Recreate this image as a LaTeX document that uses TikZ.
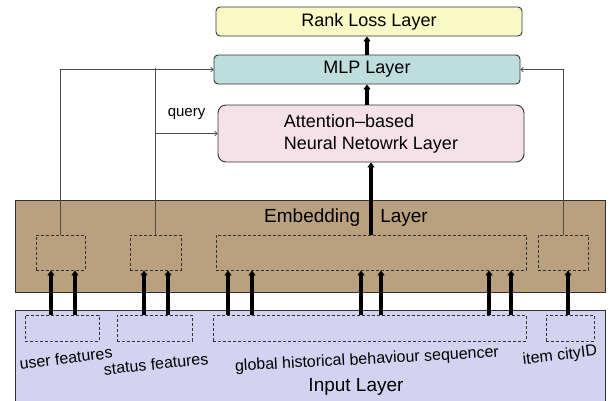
\documentclass[tikz,border=0pt]{standalone}
\usepackage{fontspec}
\setmainfont{Liberation Sans}
\usetikzlibrary{arrows.meta}
\definecolor{rankfill}{RGB}{249,249,198}
\definecolor{mlpfill}{RGB}{190,222,222}
\definecolor{attnfill}{RGB}{247,225,233}
\definecolor{embfill}{RGB}{185,160,126}
\definecolor{inputfill}{RGB}{211,211,241}
\definecolor{edge}{RGB}{50,50,50}
\begin{document}
\begin{tikzpicture}[
  x=1pt, y=-1pt,
  layer/.style={rectangle, draw=edge, line width=0.9pt, rounded corners=4pt, inner sep=0pt, font=\fontsize{18}{22}\selectfont},
  slot/.style={rectangle, draw=edge, dashed, dash pattern=on 3pt off 2pt, line width=0.9pt, inner sep=0pt, minimum height=#1},
  feed/.style={-{Triangle[width=7pt,length=5pt]}, line width=3.5pt},
  link/.style={-{To[length=3pt,width=5pt]}, draw=black!70, line width=0.8pt},
  tag/.style={font=\fontsize{16}{19}\selectfont, inner sep=0pt}
]
\useasboundingbox (0,0) rectangle (613,400);

% Embedding and input bands
\node[layer, rounded corners=0pt, fill=embfill, minimum width=590pt, minimum height=92pt] (emb) at (310,246) {};
\node[layer, rounded corners=0pt, fill=inputfill, minimum width=590pt, minimum height=100pt] (input) at (310,360) {};
\node[font=\fontsize{19}{22}\selectfont] (embtext) at (346,218) {Embedding\hspace{1.05em}Layer};
\node[font=\fontsize{19}{22}\selectfont] (inputtext) at (356,387) {Input Layer};

% Upper layers
\node[layer, fill=rankfill, minimum width=306pt, minimum height=29pt] (rank) at (369,21.5) {Rank Loss Layer};
\node[layer, fill=mlpfill, minimum width=306pt, minimum height=29pt] (mlp) at (367,69.5) {MLP Layer};
\node[layer, fill=attnfill, rounded corners=8pt, minimum width=306pt, minimum height=57pt, align=left] (attn) at (371,133.5) {Attention--based\\Neural Netowrk Layer};

% Embedding slots
\node[slot=35pt, minimum width=49pt] (eUser) at (60.5,252.5) {};
\node[slot=35pt, minimum width=51pt] (eStatus) at (155.5,252.5) {};
\node[slot=35pt, minimum width=310pt] (eSeq) at (371,252.5) {};
\node[slot=35pt, minimum width=50pt] (eItem) at (563,252.5) {};

% Input slots
\node[slot=26pt, minimum width=74pt] (iUser) at (62,328) {};
\node[slot=26pt, minimum width=75pt] (iStatus) at (154.5,328) {};
\node[slot=26pt, minimum width=313pt] (iSeq) at (369.5,328) {};
\node[slot=26pt, minimum width=48pt] (iItem) at (570,328) {};

% Input labels
\node[tag, rotate=7] (lUser) at (66,358) {user features};
\node[tag, rotate=6] (lStatus) at (156,364) {status features};
\node[tag, rotate=3] (lSeq) at (367,360) {global historical behaviour sequencer};
\node[tag, rotate=7] (lItem) at (560,356) {item cityID};

% Input to embedding
\foreach \x/\a/\b in {51/iUser/eUser, 75/iUser/eUser, 144/iStatus/eStatus, 168/iStatus/eStatus,
  228/iSeq/eSeq, 252/iSeq/eSeq, 361/iSeq/eSeq, 381/iSeq/eSeq, 489/iSeq/eSeq, 511/iSeq/eSeq, 568/iItem/eItem}
  \draw[feed] (\x,0 |- \a.north) -- (\x,0 |- \b.south);

% Upward flow
\draw[feed] (eSeq.north) -- (attn.south);
\draw[feed] (attn.north -| mlp.south) -- (mlp.south);
\draw[feed] (mlp.north) -- (mlp.north |- rank.south);

% Side links
\draw[link] (eUser.north) |- (mlp.west);
\draw[draw=black!70, line width=0.8pt] (eStatus.north) -- ([yshift=2pt]eStatus.north |- mlp.west);
\draw[link] (eStatus.north |- attn.west) -- (attn.west) node[pos=0.5, above=10pt, font=\fontsize{15}{18}\selectfont] (qtext) {query};
\draw[link] (eItem.north) |- (mlp.east);

\end{tikzpicture}
\end{document}
